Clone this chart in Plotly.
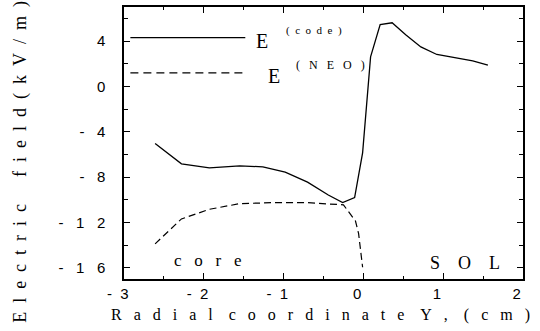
import plotly.graph_objects as go

# Data
x_code = [-2.61, -2.28, -1.93, -1.55, -1.26, -0.98, -0.70, -0.44, -0.26, -0.11, -0.01, 0.09, 0.21, 0.36, 0.53, 0.72, 0.92, 1.13, 1.37, 1.56]
y_code = [-5.05, -6.84, -7.19, -7.02, -7.10, -7.57, -8.45, -9.59, -10.26, -9.82, -5.88, 2.6, 5.44, 5.61, 4.56, 3.48, 2.81, 2.52, 2.25, 1.87]

x_neo = [-2.61, -2.28, -1.93, -1.55, -1.11, -0.70, -0.25, -0.10, -0.06, -0.01]
y_neo = [-13.9, -11.7, -10.85, -10.35, -10.26, -10.26, -10.46, -11.87, -13.0, -15.96]

x_ticks = [-3, -2, -1, 0, 1, 2]
x_ticklabels = ["-3", "-2", "-1", "0", "1", "2"]
y_ticks = [4, 0, -4, -8, -12, -16]
y_ticklabels = ["4", "0", "-4", "-8", "-12", "-16"]

# legend key sample lines (data coords)
key_x = [-2.92, -1.48]
key_code_y = 4.29
key_neo_y = 1.19

NB = "\u00a0"
def spaced(s, gap=2, wordgap=4):
    out = []
    for w in s.split(" "):
        out.append((NB * gap).join(list(w)))
    return (NB * wordgap).join(out)

serif = "Liberation Serif"
sans = "Liberation Sans"

fig = go.Figure()
fig.add_trace(go.Scatter(x=x_code, y=y_code, mode="lines",
                         line=dict(color="black", width=1.3), showlegend=False))
fig.add_trace(go.Scatter(x=x_neo, y=y_neo, mode="lines",
                         line=dict(color="black", width=1.2, dash="7px,4px"), showlegend=False))
fig.add_trace(go.Scatter(x=key_x, y=[key_code_y, key_code_y], mode="lines",
                         line=dict(color="black", width=1.3), showlegend=False))
fig.add_trace(go.Scatter(x=key_x, y=[key_neo_y, key_neo_y], mode="lines",
                         line=dict(color="black", width=1.2, dash="8px,5px"), showlegend=False))

axis_common = dict(
    showgrid=False, zeroline=False, showline=True, linecolor="black", linewidth=1.5,
    mirror="ticks", ticks="inside", ticklen=6, tickwidth=1, tickcolor="black",
    tickfont=dict(family=sans, size=15, color="black"),
)

fig.update_xaxes(range=[-3, 2], tickvals=x_ticks,
                 ticktext=[spaced(t, 2) + NB * 3 for t in x_ticklabels],
                 minor=dict(dtick=0.5, ticks="inside", ticklen=3, tickcolor="black"),
                 **axis_common)
fig.update_yaxes(range=[-17, 7], tickvals=y_ticks,
                 ticktext=[spaced(t, 3) for t in y_ticklabels],
                 ticklabelstandoff=14,
                 minor=dict(dtick=2, tick0=0, ticks="inside", ticklen=4, tickcolor="black"),
                 **axis_common)

def txt(x, y, s, size, xanchor="left"):
    fig.add_annotation(x=x, y=y, xref="x", yref="y", text=s, showarrow=False,
                       font=dict(family=serif, size=size, color="black"),
                       xanchor=xanchor, yanchor="middle")

txt(-1.37, 4.0, "E", 20)
txt(-1.0, 4.94, spaced("(code)", 2), 11)
txt(-1.22, 0.95, "E", 20)
txt(-0.87, 1.87, spaced("(NEO)", 3), 12)
txt(-2.40, -15.4, spaced("core", 3), 17)
txt(1.27, -15.6, spaced("SOL", 4), 18, xanchor="center")

# axis titles as paper annotations (pixel positions mapped through paper coords)
W, H = 540, 331
L, R, T, B = 124, 17, 5, 52
pw, ph = W - L - R, H - T - B
def px_to_paper(px, py):
    return (px - L) / pw, (H - B - py) / ph

xt = px_to_paper(320, 315)
fig.add_annotation(x=xt[0], y=xt[1], xref="paper", yref="paper", showarrow=False,
                   text=spaced("Radial coordinate Y, (cm)", 3, 4),
                   font=dict(family=serif, size=16, color="black"), xanchor="center", yanchor="middle")
yt = px_to_paper(21, 161)
fig.add_annotation(x=yt[0], y=yt[1], xref="paper", yref="paper", showarrow=False, textangle=-90,
                   text=spaced("Electric field(kV/m)", 2, 6),
                   font=dict(family=serif, size=18, color="black"), xanchor="center", yanchor="middle")

fig.update_layout(width=W, height=H, margin=dict(l=L, r=R, t=T, b=B),
                  paper_bgcolor="white", plot_bgcolor="white", showlegend=False)
fig.write_html("out.html")
